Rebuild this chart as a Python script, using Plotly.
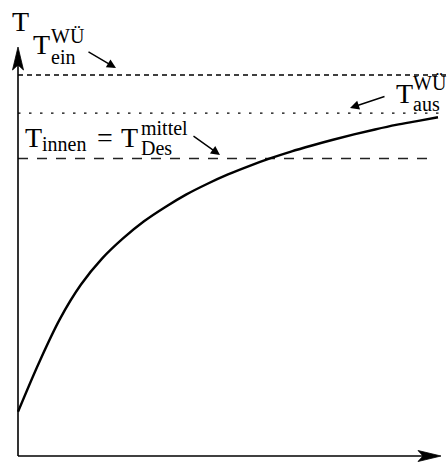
import plotly.graph_objects as go

# Heating curve of the room temperature over time
t_vals = [0.0, 0.5, 1.0, 1.5, 2.0, 2.5, 3.0, 3.5, 4.0, 4.5, 5.0,
          5.5, 6.0, 6.5, 7.0, 7.5, 8.0, 8.5, 9.0, 9.5, 10.0]
T_vals = [1.16, 2.45, 3.60, 4.50, 5.18, 5.71, 6.16, 6.53, 6.86, 7.14, 7.39,
          7.61, 7.81, 7.99, 8.15, 8.30, 8.44, 8.57, 8.69, 8.79, 8.89]

# Reference temperature levels
T_ein = 10.0      # heat exchanger inlet
T_aus = 9.0       # heat exchanger outlet
T_innen = 7.81    # mean design room temperature

W, H = 447, 463
X0, Y0 = 18, 456        # pixel position of the origin
SX, SY = 42.0, 38.1     # pixels per unit


def xd(px):
    return (px - X0) / SX


def yd(py):
    return (Y0 - py) / SY


x_range = [xd(0), xd(W)]
y_range = [yd(H), yd(0)]

FONT = "Liberation Serif"

fig = go.Figure()

# horizontal temperature levels
fig.add_trace(go.Scatter(x=[0, x_range[1]], y=[T_ein, T_ein], mode="lines",
                         line=dict(color="black", width=1.4, dash="5px,4px"),
                         hoverinfo="skip"))
fig.add_trace(go.Scatter(x=[0, x_range[1]], y=[T_aus, T_aus], mode="lines",
                         line=dict(color="black", width=1.4, dash="2.5px,8.5px"),
                         hoverinfo="skip"))
fig.add_trace(go.Scatter(x=[0, xd(434)], y=[T_innen, T_innen], mode="lines",
                         line=dict(color="#222", width=1.5, dash="10px,9px"),
                         hoverinfo="skip"))

# temperature curve
fig.add_trace(go.Scatter(x=t_vals, y=T_vals, mode="lines",
                         line=dict(color="black", width=2.4, shape="spline", smoothing=1),
                         hoverinfo="skip"))

shapes = []
# axes
y_tip, x_tip = yd(47), xd(441)
shapes.append(dict(type="line", xref="x", yref="y", x0=0, y0=0, x1=0, y1=y_tip - 0.3,
                   line=dict(color="black", width=1.6)))
shapes.append(dict(type="line", xref="x", yref="y", x0=0, y0=0, x1=x_tip - 0.3, y1=0,
                   line=dict(color="black", width=1.6)))
# arrow heads (pixel paths anchored at the axis tips)
shapes.append(dict(type="path", xref="x", yref="y", xsizemode="pixel", ysizemode="pixel",
                   xanchor=0, yanchor=y_tip,
                   path="M0,0 L-5.5,-23 L0,-18 L5.5,-23 Z",
                   fillcolor="black", line=dict(color="black", width=0.8)))
shapes.append(dict(type="path", xref="x", yref="y", xsizemode="pixel", ysizemode="pixel",
                   xanchor=x_tip, yanchor=0,
                   path="M0,0 L-23,5.5 L-18,0 L-23,-5.5 Z",
                   fillcolor="black", line=dict(color="black", width=0.8)))

ann = []


def text(px, baseline, s, size):
    # place text by its left edge and baseline (pixels)
    ann.append(dict(x=xd(px), y=yd(baseline - 0.32 * size), xref="x", yref="y",
                    text=s, showarrow=False, xanchor="left", yanchor="middle",
                    font=dict(family=FONT, size=size, color="black"),
                    borderpad=0))


def pointer(x_from, y_from, x_to, y_to):
    ann.append(dict(x=xd(x_to), y=yd(y_to), ax=xd(x_from), ay=yd(y_from),
                    xref="x", yref="y", axref="x", ayref="y", text="",
                    showarrow=True, arrowhead=2, arrowsize=1.3, arrowwidth=1.4,
                    arrowcolor="black", standoff=0, startstandoff=0))


# axis label
text(11, 30, "T", 28)

# T_ein^WÜ
text(32, 53, "T", 28)
text(50, 42, "WÜ", 20)
text(50, 63, "ein", 20)
pointer(87, 51, 116, 68)

# T_aus^WÜ
text(395, 102, "T", 28)
text(412, 89, "WÜ", 20)
text(412, 110, "aus", 20)
pointer(386, 96, 350, 108)

# T_innen = T_Des^mittel
text(24, 146, "T", 28)
text(41, 150, "innen", 20)
text(96, 146, "=", 28)
text(120, 146, "T", 28)
text(140, 134, "mittel", 20)
text(140, 154, "Des", 20)
pointer(192, 135, 220, 155)

fig.update_layout(
    width=W, height=H,
    margin=dict(l=0, r=0, t=0, b=0, pad=0),
    paper_bgcolor="white", plot_bgcolor="white",
    showlegend=False,
    xaxis=dict(range=x_range, visible=False, fixedrange=True),
    yaxis=dict(range=y_range, visible=False, fixedrange=True),
    shapes=shapes, annotations=ann,
)

fig.write_html("out.html")
